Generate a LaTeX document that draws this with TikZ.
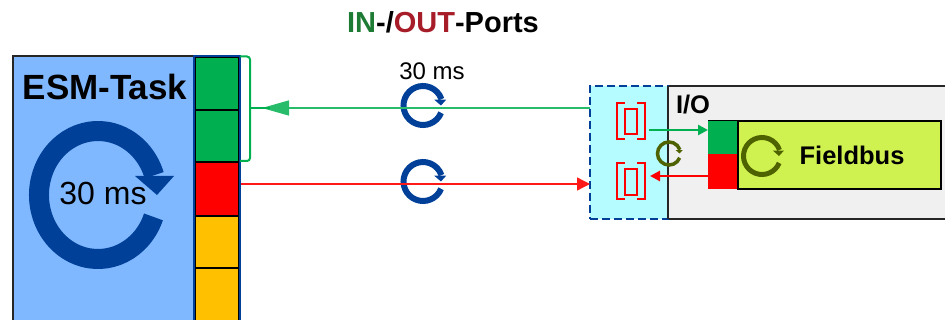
\documentclass[tikz,border=0pt]{standalone}
\usepackage{fontspec}
\setmainfont{Liberation Sans}
\usetikzlibrary{arrows.meta}
\definecolor{esmblue}{HTML}{80B8FF}
\definecolor{navy}{HTML}{004098}
\definecolor{ingreen}{HTML}{00B050}
\definecolor{outred}{HTML}{FF0000}
\definecolor{amber}{HTML}{FFC000}
\definecolor{aqua}{HTML}{B4FCFF}
\definecolor{iogray}{HTML}{F0F0F0}
\definecolor{lime}{HTML}{D0F250}
\definecolor{olive}{HTML}{4F6200}
\definecolor{titlegreen}{HTML}{1E7B34}
\definecolor{titlered}{HTML}{A61C28}
\newcommand{\cyc}[5]{% cx, cy, mid radius, ring width, colour
  \begin{scope}[shift={(#1,#2)}]
    \draw[#5,line width=#4pt] (22:#3) arc[start angle=22,end angle=341,radius=#3];
    \fill[#5] (0.578*#3,-0.297*#3) -- (1.19*#3,-0.297*#3) -- (0.92*#3,0) -- cycle;
  \end{scope}}
\newcommand{\szbox}[6]{% name, style, x1, y1, x2, y2
  \pgfmathsetmacro{\bw}{#5-#3}\pgfmathsetmacro{\bh}{#6-#4}
  \node[#2,anchor=north west,minimum width=\bw pt,minimum height=\bh pt] (#1) at (#3,#4) {};}
\tikzset{
  x=1pt,y=-1pt,
  rect/.style={draw,inner sep=0pt,outer sep=0pt,line width=1.5pt},
  cell/.style={rect,draw=black},
  label/.style={inner sep=0pt,outer sep=0pt,text=black},
  inlink/.style={ingreen!85,line width=1.3pt},
  outlink/.style={outred!90,line width=1.3pt},
  brk/.style={outred,line width=1.3pt},
}
\begin{document}
\begin{tikzpicture}
\useasboundingbox (0,0) rectangle (945,320);
\clip (0,0) rectangle (945,320);
% title
\node[label,font=\fontsize{29}{29}\selectfont\bfseries] (title) at (443,22)
  {\textcolor{titlegreen}{IN}-/\textcolor{titlered}{OUT}-Ports};
% ESM task
\szbox{task}{rect,line width=2pt,fill=esmblue,draw=black!85}{13}{56.5}{194}{330}
\szbox{c1}{cell,fill=ingreen}{195}{57}{238.5}{110}
\szbox{c2}{cell,fill=ingreen}{195}{110}{238.5}{162}
\szbox{c3}{cell,fill=outred}{195}{162}{238.5}{216}
\szbox{c4}{cell,fill=amber}{195}{216}{238.5}{268}
\szbox{c5}{cell,fill=amber}{195}{268}{238.5}{330}
\szbox{strip}{rect,line width=2pt,draw=navy}{194}{56.5}{239.5}{330}
% big cycle (slightly elliptical)
\begin{scope}[shift={(98,195)}]
  \draw[navy,line width=20pt] (20:59 and 64) arc[start angle=20,end angle=342,x radius=59,y radius=64];
  \fill[navy] (37,-19) -- (76,-19) -- (59,0) -- cycle;
\end{scope}
\node[label,font=\fontsize{35}{35}\selectfont\bfseries] (esm) at (105,87) {ESM-Task};
\node[label,font=\fontsize{32}{32}\selectfont] (big) at (103,193) {30 ms};
% I/O
\szbox{io}{rect,fill=iogray,draw=black!85}{668}{86}{960}{219}
\szbox{sw}{rect,line width=2pt,fill=aqua,draw=navy,dash pattern=on 8pt off 4pt}{590}{86}{668}{219}
\draw[black!85,line width=1.5pt] (668,86) -- (668,219);
\node[label,font=\fontsize{25.5}{25.5}\selectfont\bfseries] (iolabel) at (693,105) {I/O};
\szbox{fb}{rect,fill=lime,draw=black}{738}{121}{941}{189}
\szbox{fg}{inner sep=0pt,outer sep=0pt,fill=ingreen}{708}{121}{738}{154}
\szbox{fr}{inner sep=0pt,outer sep=0pt,fill=outred}{708}{154}{738}{189}
\draw[black,line width=1.5pt] (738,121) -- (738,189);
\draw[black,line width=1pt] (708,121) -- (738,121);
\node[label,font=\fontsize{25.5}{25.5}\selectfont\bfseries] (fbl) at (852,155) {Fieldbus};
\cyc{762}{156}{18.5}{5}{olive}
\cyc{669}{153.5}{11.5}{3.5}{olive}
% port symbols
\szbox{p1}{inner sep=0pt,outer sep=0pt,draw=outred,line width=1.3pt}{625}{109}{637}{134}
\szbox{p2}{inner sep=0pt,outer sep=0pt,draw=outred,line width=1.3pt}{625}{169}{637}{195}
\draw[brk] (625,103) -- (617,103) -- (617,139) -- (625,139);
\draw[brk] (637,103) -- (645,103) -- (645,139) -- (637,139);
\draw[brk] (625,163) -- (617,163) -- (617,199) -- (625,199);
\draw[brk] (637,163) -- (645,163) -- (645,199) -- (637,199);
% cycles on links
\cyc{423}{105.5}{19.5}{6}{navy}
\cyc{423}{181.5}{19.5}{6}{navy}
\node[label,font=\fontsize{24}{24}\selectfont] (t30) at (432,71) {30 ms};
% connectors
\coordinate (bmid) at (250,108);
\coordinate (btip) at (262,108);
\coordinate (bstub) at (270,108);
\draw[inlink,arrows={-{Triangle[length=27pt,width=15pt]}}] (sw.west |- bmid) -- (btip);
\draw[ingreen,line width=2pt,rounded corners=3pt] (240,56.5) -- (250,56.5) -- (250,161) -- (240,161);
\draw[ingreen,line width=2pt] (bmid) -- (bstub);
\coordinate (rs) at (241,184);
\draw[outlink,arrows={-{Triangle[length=13pt,width=13pt]}}] (rs) -- (sw.west |- rs);
\coordinate (ga) at (649,130);
\draw[ingreen,line width=2.5pt,arrows={-{Triangle[length=10pt,width=10pt]}}] (ga) -- (fg.west |- ga);
\coordinate (ra) at (650,176);
\draw[outred,line width=2.5pt,arrows={{Triangle[length=10pt,width=10pt]}-}] (ra) -- (fr.west |- ra);
\end{tikzpicture}
\end{document}
